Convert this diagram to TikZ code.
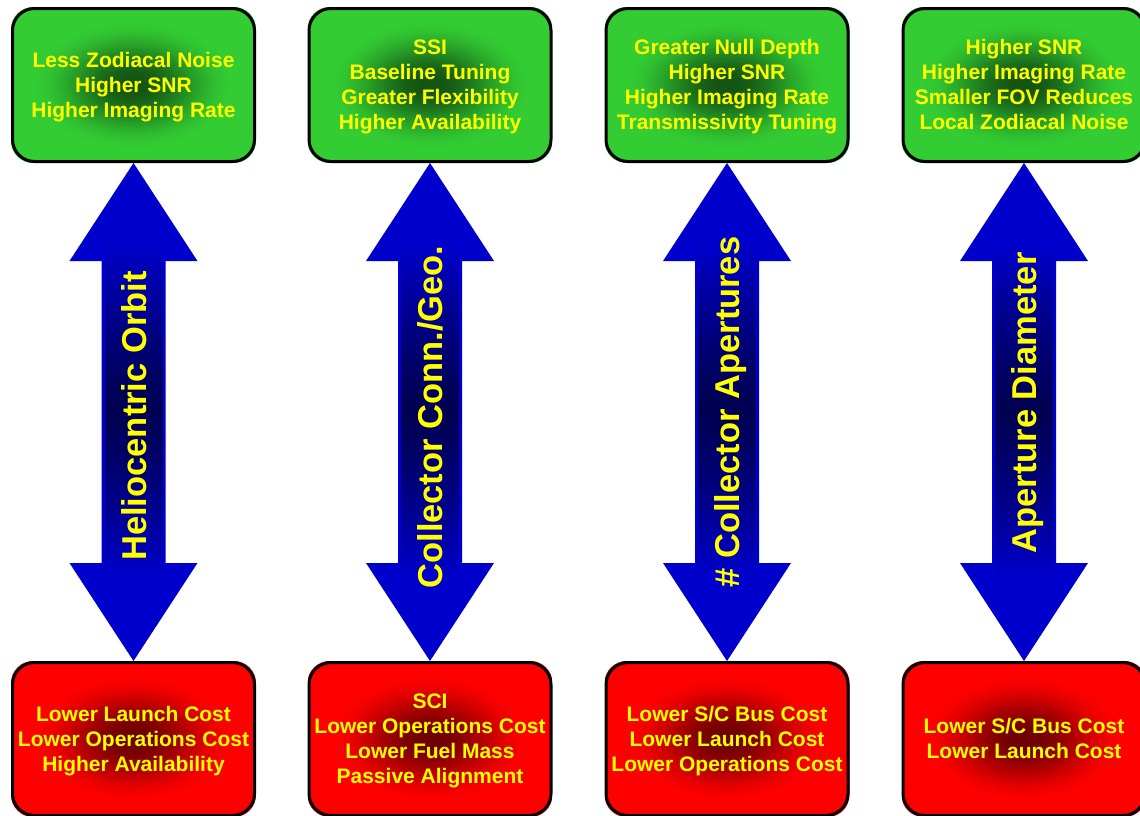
\documentclass[tikz,border=0pt]{standalone}
\usepackage{fontspec}
\setmainfont{Liberation Sans}
\usetikzlibrary{calc}

\definecolor{gbright}{RGB}{51,204,51}
\definecolor{gdark}{RGB}{20,84,20}
\definecolor{rbright}{RGB}{255,0,0}
\definecolor{rdark}{RGB}{110,0,0}
\definecolor{arrowblue}{RGB}{0,0,204}
\definecolor{arrownavy}{RGB}{0,0,82}
\definecolor{labelyellow}{RGB}{255,255,0}

\pgfdeclarelayer{paper}
\pgfdeclarelayer{arrowlayer}
\pgfdeclarelayer{glow}
\pgfsetlayers{paper,arrowlayer,glow,main}

\tikzset{
  tradebox/.style={draw=black, line width=3pt, rounded corners=22pt,
    minimum width=242pt, minimum height=153pt, inner sep=0pt,
    text=labelyellow, font=\fontsize{21}{25}\selectfont\bfseries},
  axislabel/.style={rotate=90, text=labelyellow, inner sep=0pt,
    text height=25pt, text depth=0pt,
    font=\fontsize{34.5}{40}\selectfont\bfseries},
}

% centred stack of lines, set a little low in its box
\newcommand\boxlines[1]{\raisebox{-2pt}[\height][\depth]{\begin{tabular}{@{}c@{}}#1\end{tabular}}}

% box fill: plain colour with a dark elliptical core fading outwards
\newcommand\glowfill[3]{%
  \begin{scope}
    \clip[rounded corners=22pt] (#1.south west) rectangle (#1.north east);
    \fill[#2] (#1.south west) rectangle (#1.north east);
    \foreach \k in {0,...,59}{%
      \pgfmathsetmacro\rr{1.0*(1-\k/60)}
      \pgfmathsetmacro\ss{min(1,max(0,(\rr-0.05)/(0.85-0.05)))}
      \pgfmathsetmacro\pct{100*(1-\ss*\ss*(3-2*\ss))}
      \fill[#3!\pct!#2] (#1.center) ellipse ({121*\rr pt} and {76.5*\rr pt});
    }
  \end{scope}}

% double-headed trade arrow between a benefit box and a penalty box,
% its shaft darkening towards the middle
\newcommand\tradearrow[2]{%
  \fill[arrowblue] (#1.south) -- ($(#1.south)+(64,-98)$) -- ($(#1.south)+(32,-98)$)
    -- ($(#2.north)+(32,98)$) -- ($(#2.north)+(64,98)$) -- (#2.north)
    -- ($(#2.north)+(-64,98)$) -- ($(#2.north)+(-32,98)$)
    -- ($(#1.south)+(-32,-98)$) -- ($(#1.south)+(-64,-98)$) -- cycle;
  \foreach \k in {0,...,59}{%
    \pgfmathsetmacro\fa{0.165+0.668*\k/60}
    \pgfmathsetmacro\fb{min(0.833,0.165+0.668*(\k+1.1)/60)}
    \pgfmathsetmacro\pct{100*(1-abs(2*(\k+0.5)/60-1)^1.3)}
    \fill[arrownavy!\pct!arrowblue] ($(#1.south)!\fa!(#2.north)+(-29,0)$)
      rectangle ($(#1.south)!\fb!(#2.north)+(29,0)$);
  }
}

\begin{document}
\begin{tikzpicture}[x=1pt,y=1pt]
\useasboundingbox (0,-815) rectangle (1140,0);
\clip (0,-815) rectangle (1140,0);
\begin{pgfonlayer}{paper}
  \fill[white] (0,-815) rectangle (1140,0);
\end{pgfonlayer}

% benefits (top row)
\node[tradebox] (g1) at (133.5,-85) {\boxlines{Less Zodiacal Noise\\Higher SNR\\Higher Imaging Rate}};
\node[tradebox] (g2) at (430,-85) {\boxlines{SSI\\Baseline Tuning\\Greater Flexibility\\Higher Availability}};
\node[tradebox] (g3) at (727,-85) {\boxlines{Greater Null Depth\\Higher SNR\\Higher Imaging Rate\\Transmissivity Tuning}};
\node[tradebox] (g4) at (1024,-85) {\boxlines{Higher SNR\\Higher Imaging Rate\\Smaller FOV Reduces\\Local Zodiacal Noise}};

% penalties (bottom row)
\node[tradebox] (r1) at (133.5,-739) {\boxlines{Lower Launch Cost\\Lower Operations Cost\\Higher Availability}};
\node[tradebox] (r2) at (430,-739) {\boxlines{SCI\\Lower Operations Cost\\Lower Fuel Mass\\Passive Alignment}};
\node[tradebox] (r3) at (727,-739) {\boxlines{Lower S/C Bus Cost\\Lower Launch Cost\\Lower Operations Cost}};
\node[tradebox] (r4) at (1024,-739) {\boxlines{Lower S/C Bus Cost\\Lower Launch Cost}};

\begin{pgfonlayer}{glow}
  \foreach \b in {g1,g2,g3,g4} {\glowfill{\b}{gbright}{gdark}}
  \foreach \b in {r1,r2,r3,r4} {\glowfill{\b}{rbright}{rdark}}
\end{pgfonlayer}

% trade axes
\begin{pgfonlayer}{arrowlayer}
  \tradearrow{g1}{r1}
  \tradearrow{g2}{r2}
  \tradearrow{g3}{r3}
  \tradearrow{g4}{r4}
\end{pgfonlayer}

\node[axislabel] (a1) at (133.5,-416) {Heliocentric Orbit};
\node[axislabel] (a2) at (430,-417) {Collector Conn./Geo.};
\node[axislabel] (a3) at (727,-412) {\# Collector Apertures};
\node[axislabel] (a4) at (1024,-403) {Aperture Diameter};
\end{tikzpicture}
\end{document}
